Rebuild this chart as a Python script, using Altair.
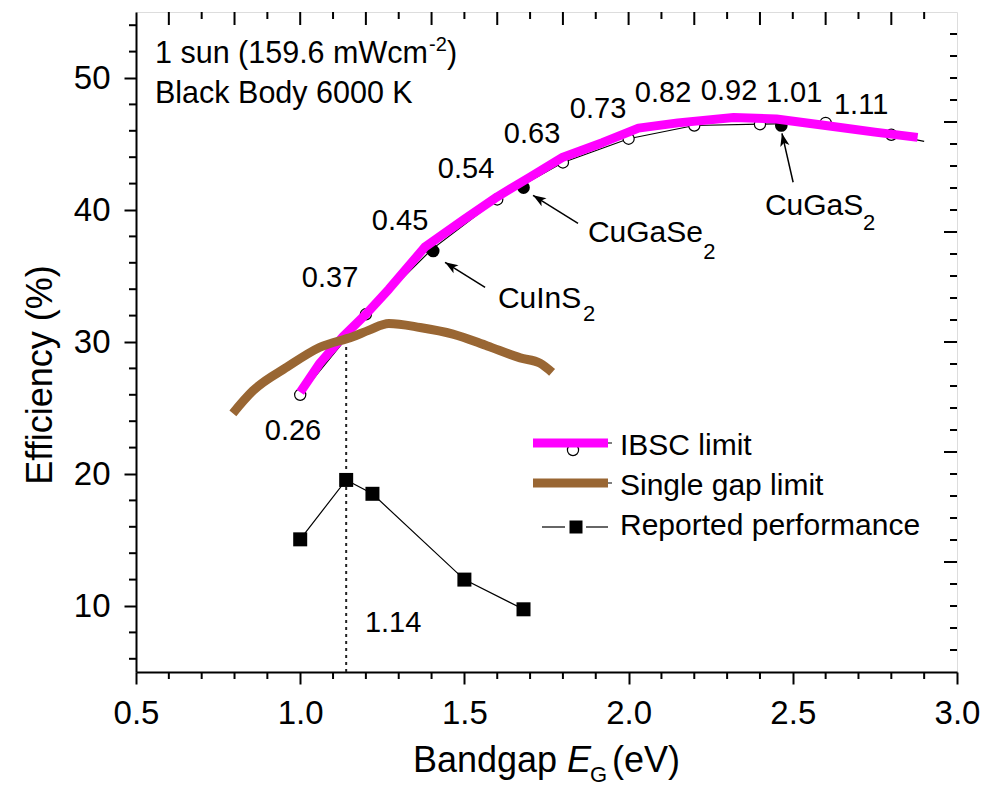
import math
import altair as alt
import pandas as pd

FONT = "Liberation Sans"
W, H = 821, 660
XDOM = [0.5, 3.0]
YDOM = [5, 55]

# ---------------- data ----------------
ibsc_x = [1.00, 1.06, 1.13, 1.20, 1.27, 1.38, 1.50, 1.60, 1.70, 1.80, 1.92, 2.03, 2.15, 2.32, 2.45, 2.60, 2.75, 2.88]
ibsc_y = [26.2, 28.4, 30.4, 32.1, 34.0, 37.2, 39.3, 41.0, 42.5, 44.0, 45.1, 46.2, 46.6, 47.0, 46.9, 46.4, 45.9, 45.5]

calc_x = [1.0, 1.2, 1.4, 1.6, 1.8, 2.0, 2.2, 2.4, 2.6, 2.8]
calc_y = [26.0, 32.1, 37.0, 40.8, 43.6, 45.4, 46.4, 46.5, 46.6, 45.7]
calc_end_x = [2.9]
calc_end_y = [45.2]

mat_names = ["CuInS", "CuGaSe", "CuGaS"]
mat_x = [1.405, 1.68, 2.465]
mat_y = [36.9, 41.7, 46.4]

single_x = [0.795, 0.856, 0.96, 1.06, 1.16, 1.21, 1.27, 1.365, 1.465, 1.57, 1.67, 1.73, 1.767]
single_y = [24.6, 26.3, 28.1, 29.6, 30.4, 30.9, 31.4, 31.1, 30.6, 29.7, 28.8, 28.4, 27.7]

rep_x = [1.0, 1.14, 1.22, 1.50, 1.68]
rep_y = [15.05, 19.55, 18.5, 12.0, 9.75]

ib_labels = ["0.26", "0.37", "0.45", "0.54", "0.63", "0.73", "0.82", "0.92", "1.01", "1.11"]
ib_label_x = [0.978, 1.091, 1.304, 1.505, 1.706, 1.907, 2.105, 2.306, 2.504, 2.708]
ib_label_y = [22.55, 34.14, 38.5, 42.4, 45.1, 47.0, 48.16, 48.3, 48.16, 47.3]

optimum_gap = [1.14]
optimum_eff = [30.6]

# annotation label anchors (data coords) and arrows
mat_label_x = [1.602, 1.876, 2.415]
mat_label_y = [32.6, 37.56, 39.6]
mat_sub_x = [1.861, 2.227, 2.714]
mat_sub_y = [31.6, 36.3, 38.46]
arrow_start_x = [1.563, 1.846, 2.501]
arrow_start_y = [34.14, 38.99, 42.10]
arrow_tip_x = [1.441, 1.709, 2.467]
arrow_tip_y = [36.04, 41.11, 45.81]

x_major = [0.5, 1.0, 1.5, 2.0, 2.5, 3.0]
y_major = [10, 20, 30, 40, 50]

# ---------------- scales/axes ----------------
xscale = alt.Scale(domain=XDOM, nice=False, zero=False)
yscale = alt.Scale(domain=YDOM, nice=False, zero=False)
xaxis = alt.Axis(values=x_major, format=".1f", title=None, grid=False,
                 labelFont=FONT, labelFontSize=33, labelColor="black",
                 labelPadding=13, tickSize=12, tickWidth=2, tickColor="black",
                 domainColor="black", domainWidth=2, labelFlush=False, labelOverlap=False)
yaxis = alt.Axis(values=y_major, format="d", title=None, grid=False,
                 labelFont=FONT, labelFontSize=33, labelColor="black",
                 labelPadding=14, tickSize=12, tickWidth=2, tickColor="black",
                 domainColor="black", domainWidth=2, labelFlush=False, labelOverlap=False)


def X(f):
    return alt.X(f, type="quantitative", scale=xscale, axis=xaxis)


def Y(f):
    return alt.Y(f, type="quantitative", scale=yscale, axis=yaxis)


one = pd.DataFrame({"a": [0]})


def ptext(txt, px, py, size=30, align="left", baseline="alphabetic", angle=0, style="normal"):
    return alt.Chart(one).mark_text(text=txt, font=FONT, fontSize=size, align=align,
                                    baseline=baseline, angle=angle, fontStyle=style,
                                    color="black").encode(x=alt.value(px), y=alt.value(py))


def prule(x1, x2, py, color="black", width=1.2):
    return alt.Chart(one).mark_rule(color=color, strokeWidth=width, strokeCap="butt").encode(
        x=alt.value(x1), x2=alt.value(x2), y=alt.value(py))


layers = []

# minor / mirror ticks
x_minor = [round(0.5 + 0.1 * k, 2) for k in range(1, 25) if k % 5 != 0]
y_minor = [v for v in range(6, 55, 2) if v % 10 != 0]
top_long = [round(0.6 + 0.2 * k, 2) for k in range(12)]
top_short = [round(0.7 + 0.2 * k, 2) for k in range(12)]
right_vals = [5 + k * 5 / 3 for k in range(1, 30)]
right_long = [v for k, v in zip(range(1, 30), right_vals) if k % 5 == 0]
right_short = [v for k, v in zip(range(1, 30), right_vals) if k % 5 != 0]

layers.append(alt.Chart(pd.DataFrame({"v": x_minor})).mark_rule(color="black", strokeWidth=2).encode(
    x=X("v"), y=alt.value(H), y2=alt.value(H + 7)))
layers.append(alt.Chart(pd.DataFrame({"v": y_minor})).mark_rule(color="black", strokeWidth=2).encode(
    y=Y("v"), x=alt.value(-7), x2=alt.value(0)))
layers.append(alt.Chart(pd.DataFrame({"v": top_long})).mark_rule(color="black", strokeWidth=2).encode(
    x=X("v"), y=alt.value(0), y2=alt.value(13)))
layers.append(alt.Chart(pd.DataFrame({"v": top_short})).mark_rule(color="black", strokeWidth=2).encode(
    x=X("v"), y=alt.value(0), y2=alt.value(7)))
layers.append(alt.Chart(pd.DataFrame({"v": right_long})).mark_rule(color="black", strokeWidth=2).encode(
    y=Y("v"), x=alt.value(W - 13), x2=alt.value(W)))
layers.append(alt.Chart(pd.DataFrame({"v": right_short})).mark_rule(color="black", strokeWidth=2).encode(
    y=Y("v"), x=alt.value(W - 7), x2=alt.value(W)))

# dotted vertical line at optimum gap
dot_df = pd.DataFrame({"x": optimum_gap, "y": [YDOM[0]], "y2": optimum_eff})
layers.append(alt.Chart(dot_df).mark_rule(color="#222222", strokeWidth=2, strokeDash=[3, 4]).encode(
    x=X("x"), y=Y("y"), y2="y2"))

# calculated IBSC points (black line + open circles)
calc_df = pd.DataFrame({"x": calc_x + calc_end_x, "y": calc_y + calc_end_y})
layers.append(alt.Chart(calc_df).mark_line(color="black", strokeWidth=1.2).encode(x=X("x"), y=Y("y")))
layers.append(alt.Chart(pd.DataFrame({"x": calc_x, "y": calc_y})).mark_point(
    shape="circle", filled=True, fill="white", stroke="black", strokeWidth=1.2, size=125, opacity=1).encode(
    x=X("x"), y=Y("y")))
layers.append(alt.Chart(pd.DataFrame({"x": mat_x, "y": mat_y})).mark_circle(
    color="black", size=160, opacity=1).encode(x=X("x"), y=Y("y")))

# IBSC limit
layers.append(alt.Chart(pd.DataFrame({"x": ibsc_x, "y": ibsc_y})).mark_line(
    color="#FF00FF", strokeWidth=9, strokeCap="butt", strokeJoin="round").encode(x=X("x"), y=Y("y")))
# single gap limit
layers.append(alt.Chart(pd.DataFrame({"x": single_x, "y": single_y})).mark_line(
    color="#996633", strokeWidth=9, strokeCap="butt", interpolate="monotone").encode(x=X("x"), y=Y("y")))

# reported performance
rep_df = pd.DataFrame({"x": rep_x, "y": rep_y})
layers.append(alt.Chart(rep_df).mark_line(color="black", strokeWidth=1.2).encode(x=X("x"), y=Y("y")))
layers.append(alt.Chart(rep_df).mark_square(color="black", size=196, opacity=1).encode(x=X("x"), y=Y("y")))

# arrows
sx = W / (XDOM[1] - XDOM[0])
sy = H / (YDOM[1] - YDOM[0])
angles = []
for xs, ys, xt, yt in zip(arrow_start_x, arrow_start_y, arrow_tip_x, arrow_tip_y):
    dxp = (xt - xs) * sx
    dyp = -(yt - ys) * sy
    angles.append(math.degrees(math.atan2(dxp, -dyp)) % 360)
arr_df = pd.DataFrame({"x": arrow_start_x, "y": arrow_start_y, "x2": arrow_tip_x, "y2": arrow_tip_y, "ang": angles})
layers.append(alt.Chart(arr_df).mark_rule(color="black", strokeWidth=1.5).encode(
    x=X("x"), y=Y("y"), x2="x2", y2="y2"))
layers.append(alt.Chart(arr_df).mark_point(
    shape="M0,0 L-0.36,1 L0,0.75 L0.36,1 Z", filled=True, color="black", size=676, opacity=1).encode(
    x=X("x2"), y=Y("y2"), angle=alt.Angle("ang:Q", scale=None)))

# IB position labels
lab_df = pd.DataFrame({"x": ib_label_x, "y": ib_label_y, "t": ib_labels})
layers.append(alt.Chart(lab_df).mark_text(font=FONT, fontSize=29, align="center", baseline="alphabetic",
                                          color="black").encode(x=X("x"), y=Y("y"), text="t:N"))
layers.append(alt.Chart(pd.DataFrame({"x": [1.283], "y": [8.0], "t": ["1.14"]})).mark_text(
    font=FONT, fontSize=29, align="center", baseline="alphabetic", color="black").encode(
    x=X("x"), y=Y("y"), text="t:N"))

# material labels with subscript 2
mat_df = pd.DataFrame({"x": mat_label_x, "y": mat_label_y, "t": mat_names})
layers.append(alt.Chart(mat_df).mark_text(font=FONT, fontSize=30, align="left", baseline="alphabetic",
                                          color="black").encode(x=X("x"), y=Y("y"), text="t:N"))
sub_df = pd.DataFrame({"x": mat_sub_x, "y": mat_sub_y, "t": ["2", "2", "2"]})
layers.append(alt.Chart(sub_df).mark_text(font=FONT, fontSize=22, align="left", baseline="alphabetic",
                                          color="black").encode(x=X("x"), y=Y("y"), text="t:N"))

# header text
layers.append(ptext("1 sun (159.6 mWcm", 19, 51, size=30.5))
layers.append(ptext("-2", 293, 39, size=20))
layers.append(ptext(")", 311, 51, size=30.5))
layers.append(ptext("Black Body 6000 K", 19, 91, size=30.5))

# legend
layers.append(prule(397, 476, 431))
layers.append(alt.Chart(one).mark_point(shape="circle", filled=True, fill="white", stroke="black",
                                        strokeWidth=1.2, size=125, opacity=1).encode(
    x=alt.value(437), y=alt.value(438)))
layers.append(prule(397, 472, 431, color="#FF00FF", width=9))
layers.append(prule(397, 476, 471))
layers.append(prule(397, 472, 471, color="#996633", width=9))
layers.append(prule(406, 429, 515))
layers.append(prule(450, 472, 515))
layers.append(alt.Chart(one).mark_square(color="black", size=169, opacity=1).encode(
    x=alt.value(440), y=alt.value(515)))
layers.append(ptext("IBSC limit", 484, 443))
layers.append(ptext("Single gap limit", 484, 483))
layers.append(ptext("Reported performance", 484, 523))

# axis titles
layers.append(ptext("Efficiency (%)", -84, 363, size=36, align="center", angle=270))
layers.append(ptext("Bandgap", 277, 760, size=36))
layers.append(ptext("E", 431, 760, size=36, style="italic"))
layers.append(ptext("G", 454, 770, size=22))
layers.append(ptext("(eV)", 476, 760, size=36))

chart = alt.layer(*layers).properties(
    width=W, height=H,
    autosize=alt.AutoSizeParams(type="none"),
    padding={"left": 128, "top": 4, "right": 30, "bottom": 125},
).configure_view(stroke="black", strokeWidth=2).configure(background="white")

chart.save("out.html", embed_options={"renderer": "svg", "actions": False})
